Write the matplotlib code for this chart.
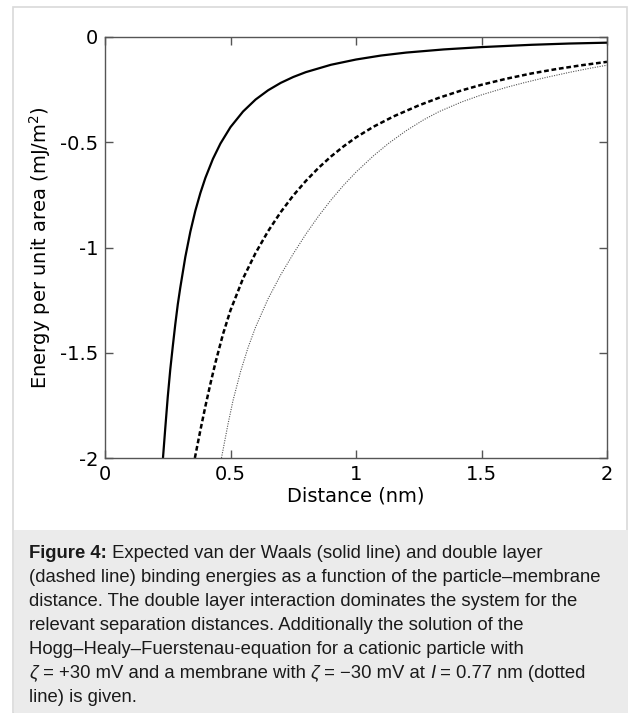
import matplotlib
matplotlib.use("Agg")
import matplotlib.pyplot as plt
from matplotlib.patches import Rectangle

# values
vdw_x = [0.231, 0.24, 0.25, 0.26, 0.27, 0.28, 0.29, 0.30, 0.32, 0.34, 0.36, 0.38, 0.40,
         0.43, 0.46, 0.50, 0.55, 0.60, 0.65, 0.70, 0.75, 0.80, 0.90, 1.00, 1.10, 1.20,
         1.35, 1.50, 1.70, 1.85, 2.00]
vdw_y = [-2.00, -1.86, -1.71, -1.58, -1.47, -1.365, -1.27, -1.19, -1.045, -0.925, -0.825,
         -0.741, -0.669, -0.579, -0.506, -0.428, -0.354, -0.297, -0.253, -0.218, -0.190,
         -0.167, -0.132, -0.107, -0.088, -0.074, -0.059, -0.048, -0.037, -0.031, -0.027]

dl_x = [0.358, 0.38, 0.40, 0.42, 0.44, 0.47, 0.50, 0.55, 0.60, 0.65, 0.70, 0.75, 0.80,
        0.85, 0.90, 0.95, 1.00, 1.07, 1.15, 1.25, 1.33, 1.42, 1.50, 1.60, 1.70, 1.80,
        1.90, 2.00]
dl_y = [-2.00, -1.868, -1.754, -1.647, -1.547, -1.412, -1.298, -1.147, -1.026, -0.922,
        -0.832, -0.753, -0.684, -0.6225, -0.568, -0.52, -0.477, -0.426, -0.377, -0.325,
        -0.289, -0.254, -0.227, -0.198, -0.173, -0.152, -0.134, -0.118]

hhf_x = [0.464, 0.49, 0.51, 0.54, 0.57, 0.60, 0.65, 0.70, 0.75, 0.80, 0.85, 0.90, 0.95,
         1.00, 1.07, 1.13, 1.20, 1.27, 1.33, 1.42, 1.50, 1.60, 1.67, 1.75, 1.85, 1.93, 2.00]
hhf_y = [-2.00, -1.839, -1.727, -1.590, -1.475, -1.378, -1.243, -1.130, -1.030, -0.937,
         -0.852, -0.775, -0.705, -0.642, -0.564, -0.505, -0.445, -0.393, -0.355, -0.309,
         -0.275, -0.239, -0.217, -0.194, -0.168, -0.149, -0.134]

xticks = [0, 0.5, 1, 1.5, 2]
xticklabels = ["0", "0.5", "1", "1.5", "2"]
yticks = [0, -0.5, -1, -1.5, -2]
yticklabels = ["0", "-0.5", "-1", "-1.5", "-2"]

caption = [
    [("Figure 4:", "normal", "bold"), (" Expected van der Waals (solid line) and double layer", "normal", "normal")],
    [("(dashed line) binding energies as a function of the particle\u2013membrane", "normal", "normal")],
    [("distance. The double layer interaction dominates the system for the", "normal", "normal")],
    [("relevant separation distances. Additionally the solution of the", "normal", "normal")],
    [("Hogg\u2013Healy\u2013Fuerstenau-equation for a cationic particle with", "normal", "normal")],
    [("\u03b6", "italic", "normal"), (" = +30 mV and a membrane with ", "normal", "normal"),
     ("\u03b6", "italic", "normal"), (" = \u221230 mV at ", "normal", "normal"),
     ("I", "italic", "normal"), (" = 0.77 nm (dotted", "normal", "normal")],
    [("line) is given.", "normal", "normal")],
]

W, H = 628, 713
fig = plt.figure(figsize=(W / 100, H / 100), dpi=100)

# frame and caption box
fig.patches.append(Rectangle((13 / W, 0), 1 - 13 / W - 1 / W, 1 - 7 / H, transform=fig.transFigure,
                             facecolor="white", edgecolor="#d9d9d9", linewidth=1.2, zorder=0))
fig.patches.append(Rectangle((14 / W, 0), 1 - 14 / W, 1 - 530 / H, transform=fig.transFigure,
                             facecolor="#ebebeb", edgecolor="none", zorder=1))

ax = fig.add_axes([105 / W, 1 - 458 / H, 502 / W, 421 / H])
ax.set_zorder(5)
ax.plot(vdw_x, vdw_y, color="black", lw=1.6)
ax.plot(dl_x, dl_y, color="black", lw=1.8, linestyle=(0, (1.9, 1.1)))
ax.plot(hhf_x, hhf_y, color="#555555", lw=0.8, linestyle=(0, (1, 1.2)))

ax.set_xlim(0, 2)
ax.set_ylim(-2, 0)
ax.set_xticks(xticks)
ax.set_xticklabels(xticklabels)
ax.set_yticks(yticks)
ax.set_yticklabels(yticklabels)
ax.tick_params(direction="in", length=6, width=1, color="#555555", top=True, right=True,
               labelsize=14, pad=5)
for s in ax.spines.values():
    s.set_color("#555555")
    s.set_linewidth(1)
ax.set_xlabel("Distance (nm)", fontsize=14, labelpad=2)
ax.set_ylabel("Energy per unit area (mJ/m$^2$)", fontsize=14, labelpad=5)

# caption, drawn run by run so bold / italic parts sit on the same line
renderer = fig.canvas.get_renderer()
y0 = 553
for i, line in enumerate(caption):
    x = 29
    for txt, style, weight in line:
        t = fig.text(x / W, 1 - (y0 + 24 * i) / H, txt, fontsize=13.3, family="Liberation Sans",
                     style=style, weight=weight, va="center", ha="left", color="#1a1a1a",
                     zorder=6)
        x += t.get_window_extent(renderer).width

fig.savefig("out.png", dpi=100)
